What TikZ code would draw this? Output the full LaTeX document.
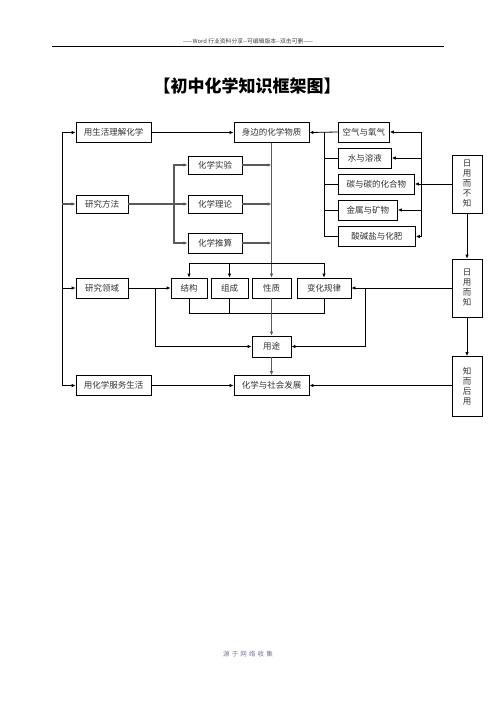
\documentclass[tikz,border=0pt]{standalone}
\usepackage{fontspec}
\newfontfamily\cjk{Noto Sans CJK SC}
\usetikzlibrary{arrows.meta,positioning}
\definecolor{footblue}{RGB}{120,120,165}
\tikzset{
  box/.style={draw=black, line width=0.8pt, minimum height=20pt, inner sep=2pt,
    text=black!80, font=\cjk\fontsize{8.5}{10}\selectfont},
  vbox/.style={box, minimum width=30pt, align=center,
    font=\cjk\fontsize{8.5}{10}\selectfont},
  wire/.style={line width=0.8pt},
  gwire/.style={draw=black!65, line width=1.2pt},
  arr/.style={-{Latex[length=4pt,width=3.5pt]}, line width=0.8pt},
  garr/.style={arr, draw=black!65, line width=1.2pt}
}
\begin{document}
\begin{tikzpicture}[x=1pt, y=-1pt]
  \fill[white] (0,0) rectangle (496,702);
  \useasboundingbox (0,0) rectangle (496,702);

  % header and title
  \node[font=\cjk\fontsize{5.8}{6}\selectfont, text=black!75] (hdr) at (248,41)
    {——Word 行业资料分享--可编辑版本--双击可删——};
  \coordinate (ruleL) at (52,46);
  \coordinate (ruleR) at (444,46);
  \draw[line width=0.8pt] (ruleL) -- (ruleR);
  \node[font=\cjk\bfseries\fontsize{17}{19}\selectfont] (title) at (247,86)
    {【初中化学知识框架图】};

  % left column
  \node[box, minimum width=75pt] (life) at (113.5,132.5) {用生活理解化学};
  \node[box, minimum width=52pt, minimum height=18pt] (method) at (102,204) {研究方法};
  \node[box, minimum width=52pt] (field) at (102,288) {研究领域};
  \node[box, minimum width=75pt] (serve) at (113.5,385.5) {用化学服务生活};

  % middle column
  \node[box, minimum width=75pt] (matter) at (271.5,132.5) {身边的化学物质};
  \node[box, minimum width=54pt, minimum height=18pt] (expt) at (215,165) {化学实验};
  \node[box, minimum width=54pt, minimum height=18pt] (theory) at (215,204) {化学理论};
  \node[box, minimum width=54pt] (calc) at (215,243) {化学推算};

  \node[box, minimum width=36pt] (struct) at (189,288) {结构};
  \node[box, minimum width=37pt] (comp) at (229.5,288) {组成};
  \node[box, minimum width=39pt] (prop) at (271.5,288) {性质};
  \node[box, minimum width=54pt] (law) at (324,288) {变化规律};
  \node[box, minimum width=39pt, minimum height=21pt] (use) at (271.5,346.5) {用途};
  \node[box, minimum width=75pt] (society) at (271.5,385.5) {化学与社会发展};

  % substances, left edges lined up
  \node[box, anchor=west, minimum width=51pt] (air) at (338,132) {空气与氧气};
  \node[box, anchor=west, minimum width=53pt] (water) at (338,158) {水与溶液};
  \node[box, anchor=west, minimum width=76pt] (carbon) at (338,184) {碳与碳的化合物};
  \node[box, anchor=west, minimum width=59pt] (metal) at (338,210) {金属与矿物};
  \node[box, anchor=west, minimum width=77pt] (acid) at (338,236.5) {酸碱盐与化肥};

  % right column, vertical text
  \node[vbox, minimum height=58pt] (unaware) at (467,184) {日\\用\\而\\不\\知};
  \node[vbox, minimum height=58pt] (aware) at (467,288) {日\\用\\而\\知};
  \node[vbox, minimum height=60pt] (apply) at (467,386.5) {知\\而\\后\\用};

  % left rail into the four rows
  \coordinate (ltop) at (62,132.5);
  \coordinate (lbot) at (62,385.5);
  \draw[wire, line width=1pt] (ltop) -- (lbot);
  \draw[arr] (ltop) -- (life.west);
  \draw[garr] (method.west -| ltop) -- (method.west);
  \draw[arr] (field.west -| ltop) -- (field.west);
  \draw[arr] (lbot) -- (serve.west);

  \draw[arr] (life) -- (matter);
  \draw[arr] (serve) -- (society);

  % research methods
  \coordinate (msplit) at (174,204);
  \draw[garr] (method.east) -- (theory.west);
  \draw[garr] (msplit) |- (expt.west);
  \draw[garr] (msplit) |- (calc.west);
  \foreach \n in {expt,theory,calc}
    \draw[garr] (\n.east) -- (\n.east -| matter.south);
  \draw[garr] (matter.south) -- (prop.north);

  % substances feed back into matter
  \coordinate (sbus) at (324,132);
  \coordinate (rbus) at (421,132);
  \draw[arr] (air.west) -- (matter.east);
  \draw[wire] (sbus) |- (acid.west);
  \foreach \n in {water,carbon,metal}
    \draw[wire] (\n.west) -- (\n.west -| sbus);
  \draw[wire] (rbus) -- (acid.east -| rbus);
  \foreach \n in {air,water,carbon,metal,acid}
    \draw[arr] (\n.east -| rbus) -- (\n.east);
  \draw[wire] (unaware.west) -- (unaware.west -| rbus);

  \draw[arr] (unaware) -- (aware);
  \draw[arr] (aware) -- (apply);

  % research fields
  \coordinate (tbus) at (189,263);
  \coordinate (bbus) at (189,313);
  \draw[wire] (tbus) -- (law.north |- tbus);
  \foreach \n in {struct,comp,law}
    \draw[arr] (\n.north |- tbus) -- (\n.north);
  \draw[wire] (struct.south) -- (bbus) -- (law.south |- bbus) -- (law.south);
  \draw[wire] (comp.south) -- (comp.south |- bbus);

  \coordinate (fsplit) at (155,288);
  \draw[arr] (field) -- (struct);
  \draw[arr] (fsplit) |- (use.west);

  \coordinate (asplit) at (365,288);
  \draw[arr] (aware.west |- law.east) -- (law.east);
  \draw[arr] (asplit) |- (use.east);

  \draw[garr] (prop.south) -- (use.north);
  \draw[garr] (use.south) -- (society.north);
  \draw[arr] (apply.west |- society.east) -- (society.east);

  % footer
  \node[font=\cjk\fontsize{6.5}{8}\selectfont, text=footblue] (foot) at (248,654)
    {源\,\,于\,\,网\,\,络\,\,收\,\,集};
\end{tikzpicture}
\end{document}
